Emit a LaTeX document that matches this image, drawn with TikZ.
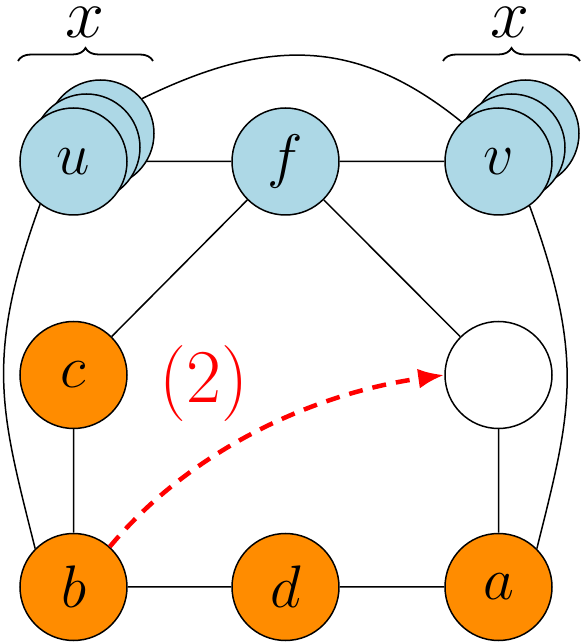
\RequirePackage{fix-cm}
\documentclass[tikz,border=0pt]{standalone}
\usetikzlibrary{arrows.meta,decorations.pathreplacing}
\pgfdeclarelayer{bg}
\pgfsetlayers{bg,main}
\definecolor{nodeblue}{RGB}{173,216,230}
\definecolor{nodeorange}{RGB}{255,140,0}
\begin{document}
\begin{tikzpicture}[x=1pt,y=1pt,
  vtx/.style={circle,draw=black,line width=1.5pt,minimum size=107pt,inner sep=0pt,font=\fontsize{60}{60}\selectfont},
  bluev/.style={vtx,fill=nodeblue},
  orangev/.style={vtx,fill=nodeorange},
  whitev/.style={vtx,fill=white},
  link/.style={line width=1.5pt,black},
  bracestyle/.style={decorate,decoration={brace,amplitude=13pt},line width=1.8pt},
  toplabel/.style={font=\fontsize{70}{70}\selectfont,inner sep=0pt,anchor=base},
  movearrow/.style={red,line width=4.5pt,dash pattern=on 14pt off 10pt,-{Latex[length=26pt,width=20pt]}}]
\useasboundingbox (0,0) rectangle (583,643);
% u stack
\node[bluev] (u3) at (100.5,509.5) {};
\node[bluev] (u2) at (86.5,495.5) {};
\node[bluev] (u) at (73.5,481.5) {$u$};
% v stack
\node[bluev] (v3) at (525.5,509.5) {};
\node[bluev] (v2) at (511.5,495.5) {};
\node[bluev] (v) at (498.5,481.5) {$v$};
\node[bluev] (f) at (285.5,481.5) {$f$};
\node[orangev] (c) at (73.5,268) {$c$};
\node[whitev] (e) at (498.5,268) {};
\node[orangev] (b) at (73.5,56) {$b$};
\node[orangev] (d) at (285.5,56) {$d$};
\node[orangev] (a) at (498.5,56) {$a$};
\begin{pgfonlayer}{bg}
\draw[link] (u) -- (f) (f) -- (v) (f) -- (c) (f) -- (e) (c) -- (b) (e) -- (a) (b) -- (d) (d) -- (a);
\draw[link] (u3.40) .. controls +(26:137) and +(141:137) .. (v.133);
\draw[link] (u.232) .. controls +(250:165) and +(104:140) .. (b.135);
\draw[link] (v.305) .. controls +(290:165) and +(76:140) .. (a.45);
\end{pgfonlayer}
% braces and labels
\coordinate (bl1) at (18,582);
\coordinate (bl2) at (153,582);
\coordinate (br1) at (443,582);
\coordinate (br2) at (580,582);
\draw[bracestyle] (bl1) -- (bl2);
\draw[bracestyle] (br1) -- (br2);
\node[toplabel] (xl) at (85,605) {$x$};
\node[toplabel] (xr) at (510,605) {$x$};
% move arrow
\draw[movearrow] (b.48) to[out=50,in=188,looseness=0.88] (e.west);
\node[red,inner sep=0pt,font=\fontsize{76}{76}\selectfont] (step2) at (204,259) {$(2)$};
\end{tikzpicture}
\end{document}
